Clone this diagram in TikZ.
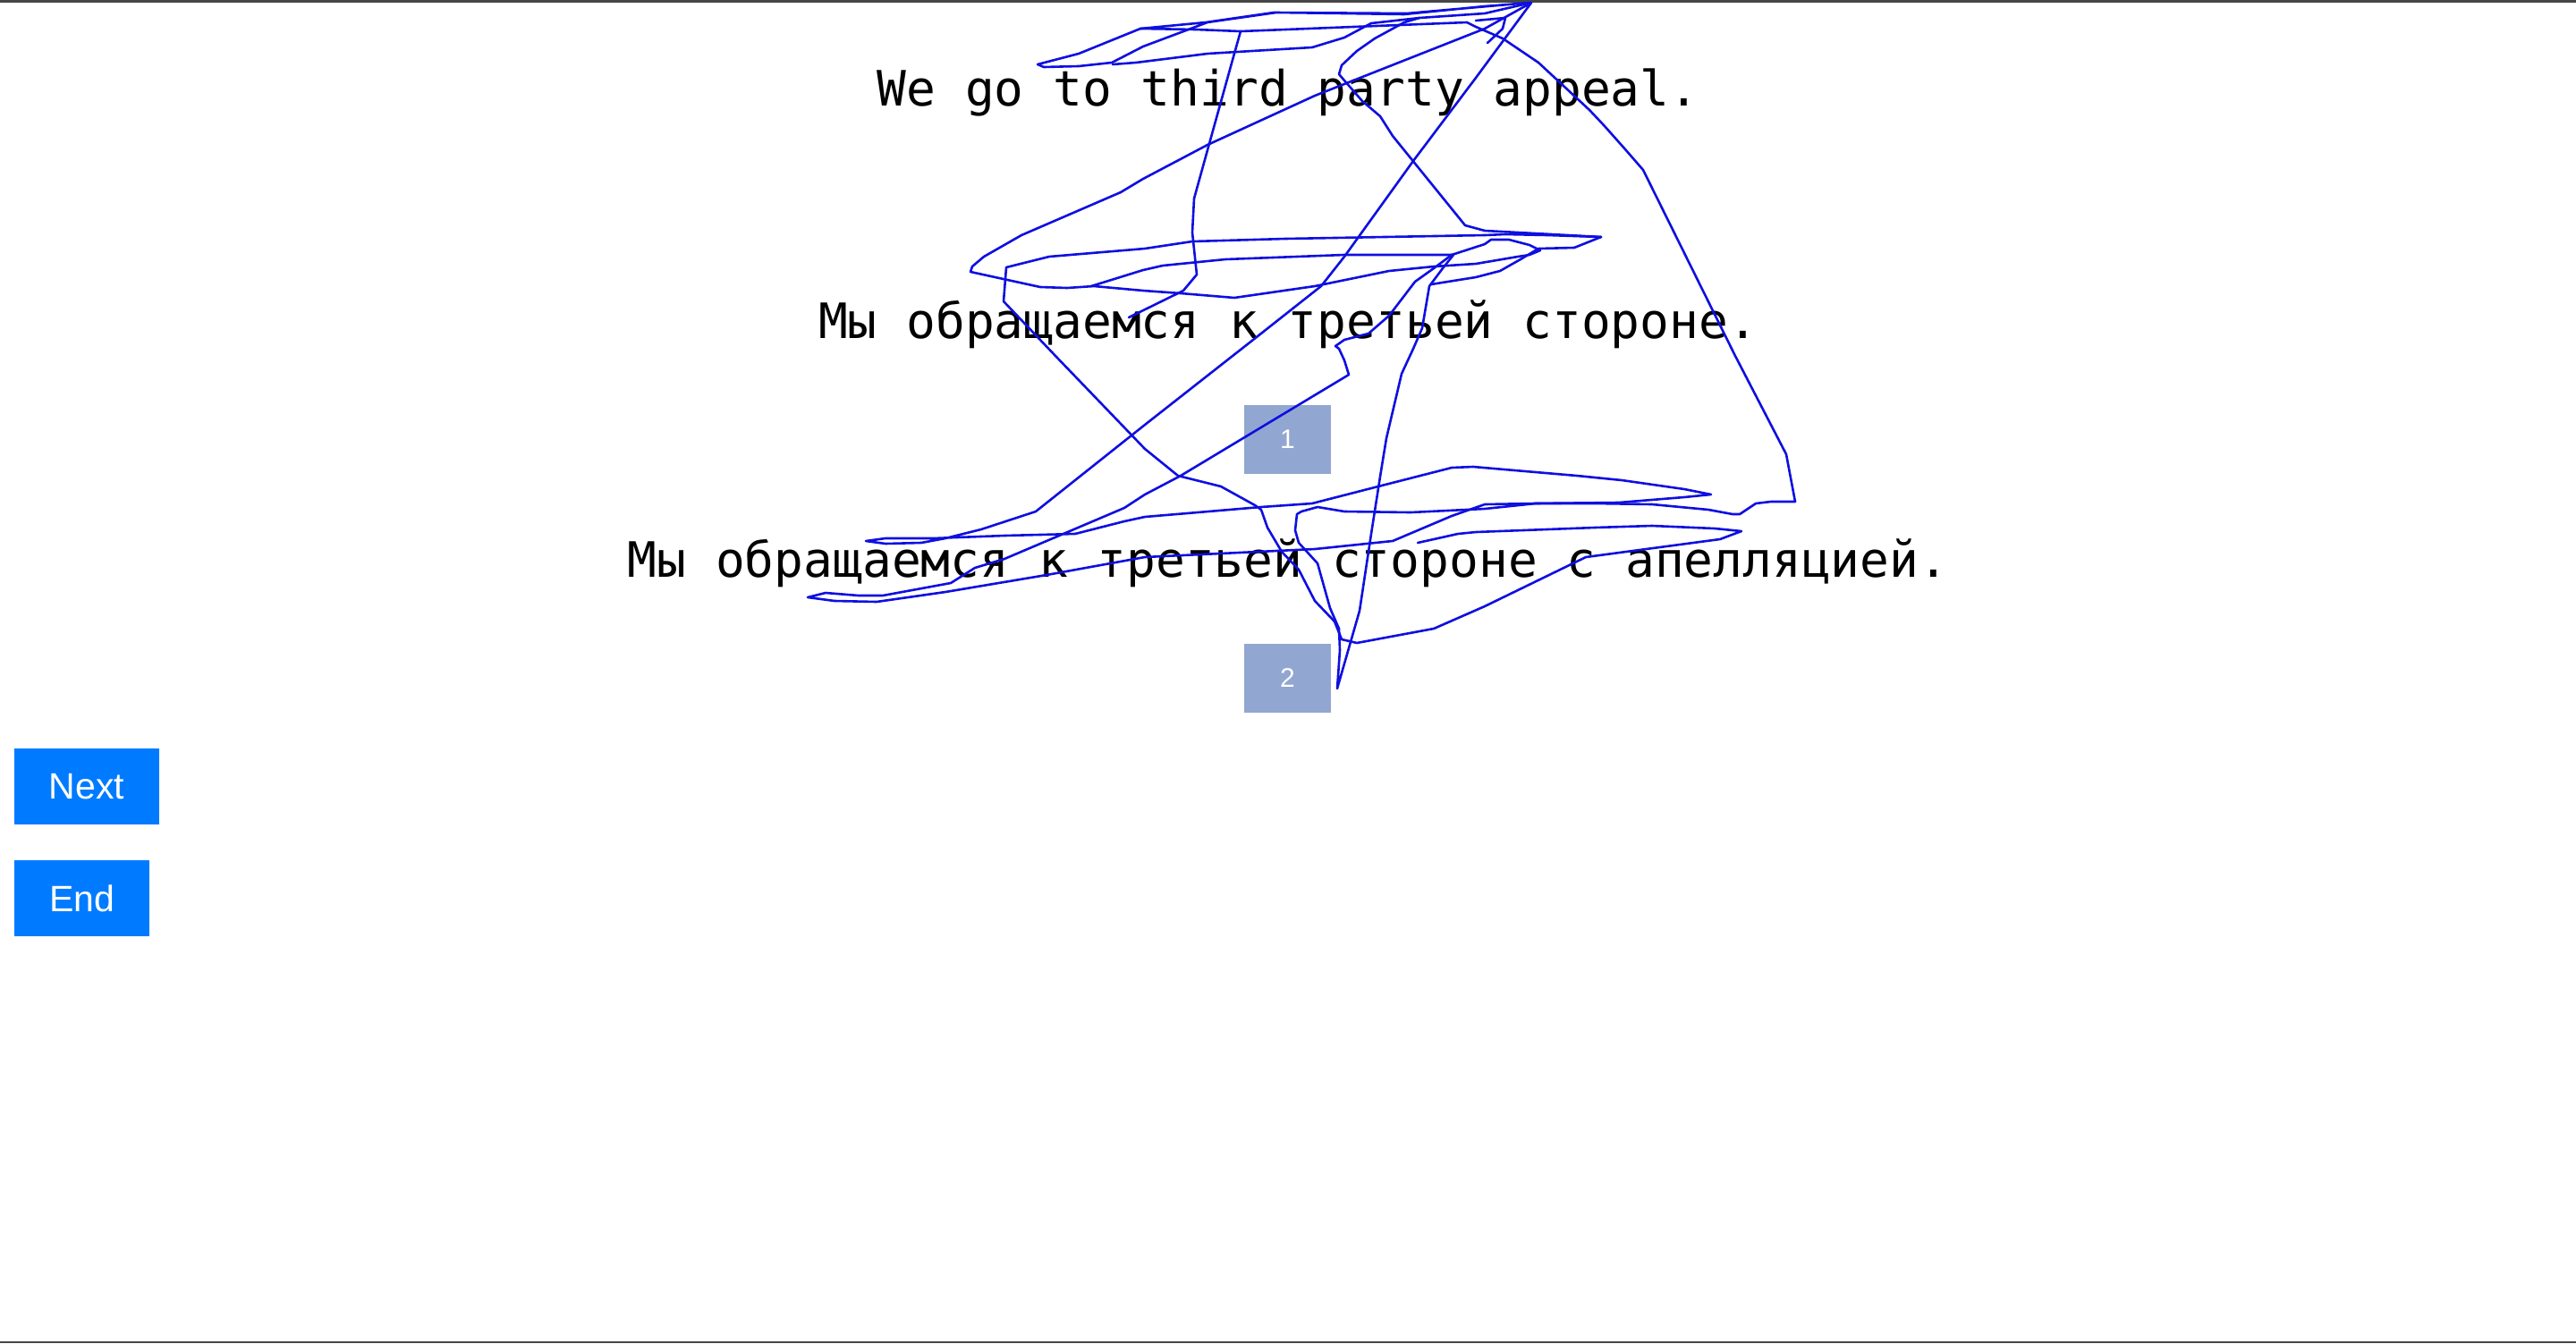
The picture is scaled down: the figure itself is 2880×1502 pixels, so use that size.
\documentclass[tikz,border=0pt]{standalone}
\usepackage{fontspec}
\newfontfamily\monofont{DejaVu Sans Mono}
\newfontfamily\arialfont{Liberation Sans}
\definecolor{btnblue}{RGB}{0,123,255}
\definecolor{numbox}{RGB}{145,167,209}
\definecolor{scrib}{RGB}{15,15,225}
\definecolor{edge}{RGB}{70,70,70}
\tikzset{
  sentence/.style={anchor=base, inner sep=0pt, font=\monofont\fontsize{54.5}{60}\selectfont, text=black},
  numbox/.style={rectangle, fill=numbox, inner sep=0pt, minimum width=97pt, minimum height=77pt, text=white, font=\arialfont\fontsize{30}{34}\selectfont},
  button/.style={rectangle, fill=btnblue, inner sep=0pt, minimum height=85pt, text=white, font=\arialfont\fontsize{41}{46}\selectfont},
  scribble/.style={draw=scrib, line width=2.6pt, line join=round, line cap=round}
}
\begin{document}
\begin{tikzpicture}[x=1pt,y=-1pt]
\useasboundingbox (0,0) rectangle (2880,1502);
\fill[white] (0,0) rectangle (2880,1502);
\fill[edge] (0,0) rectangle (2880,2.5);
\fill[edge] (0,1499.5) rectangle (2880,1502);

\node[sentence] (t1) at (1440,118) {We go to third party appeal.};
\node[sentence] (t2) at (1440,378) {Мы обращаемся к третьей стороне.};
\node[numbox] (b1) at (1439.5,491.5) {1};
\node[sentence] (t3) at (1440,645) {Мы обращаемся к третьей стороне с апелляцией.};
\node[numbox] (b2) at (1439.5,758.5) {2};
\node[button, minimum width=162pt] (next) at (97,879.5) {Next};
\node[button, minimum width=151pt] (end) at (91.5,1004.5) {End};

% freehand scribble
\draw[scribble] (1712,3) -- (1650,87) -- (1580,180) -- (1503,287) -- (1477,320) -- (1401,380) -- (1280,475) -- (1158,572) -- (1097,592) -- (1057,602) -- (1030,607) -- (990,608) -- (968,605) -- (990,602) -- (1043,602) -- (1123,599) -- (1202,597) -- (1257,583) -- (1280,578) -- (1410,567) -- (1467,563) -- (1537,545) -- (1623,523) -- (1647,522) -- (1763,532) -- (1813,537) -- (1883,547) -- (1913,553) -- (1883,556) -- (1810,562) -- (1717,563) -- (1660,564) -- (1623,577) -- (1557,605) -- (1470,614) -- (1280,623) -- (1170,643) -- (1057,662) -- (980,673) -- (933,672) -- (903,668) -- (923,663) -- (960,666) -- (987,666) -- (1063,652) -- (1090,635) -- (1123,625) -- (1257,568) -- (1280,553) -- (1320,532) -- (1508,419) -- (1503,403) -- (1497,390) -- (1493,387) -- (1503,380) -- (1530,373) -- (1553,353) -- (1582,315) -- (1603,300) -- (1623,285) -- (1660,273) -- (1667,268) -- (1687,268) -- (1710,274) -- (1722,280) -- (1710,285) -- (1697,287) -- (1650,295) -- (1603,298) -- (1553,303) -- (1470,320) -- (1380,333) -- (1320,328) -- (1278,325) -- (1223,320) -- (1193,322) -- (1163,321) -- (1085,304) -- (1087,298) -- (1100,287) -- (1142,263) -- (1253,215) -- (1278,200) -- (1350,162) -- (1470,107) -- (1660,32) -- (1712,3);

\draw[scribble] (1790,265) -- (1730,263) -- (1683,262) -- (1660,263) -- (1437,267) -- (1333,270) -- (1280,278) -- (1173,287) -- (1125,299) -- (1122,337) -- (1180,398) -- (1280,502) -- (1317,532) -- (1365,544) -- (1403,565) -- (1410,570) -- (1417,590) -- (1433,617) -- (1452,637) -- (1470,672) -- (1492,695) -- (1500,715) -- (1517,719) -- (1603,703) -- (1660,678) -- (1773,623) -- (1923,603) -- (1947,594) -- (1917,591) -- (1847,588) -- (1783,590) -- (1650,595) -- (1630,597) -- (1585,607);

\draw[scribble] (1220,320) -- (1278,302) -- (1300,297) -- (1370,290) -- (1503,285) -- (1625,285) -- (1613,300) -- (1598,320) -- (1590,367) -- (1580,390) -- (1567,418) -- (1550,490) -- (1543,533) -- (1533,597) -- (1520,683) -- (1495,770) -- (1498,727) -- (1497,703) -- (1487,680) -- (1473,630) -- (1452,607) -- (1448,593) -- (1450,575) -- (1455,572) -- (1473,567) -- (1503,572) -- (1577,573) -- (1660,569) -- (1717,563) -- (1783,563) -- (1847,564) -- (1910,570) -- (1937,575) -- (1945,575) -- (1963,563) -- (1980,561) -- (2007,561) -- (1997,508) -- (1940,398) -- (1837,190) -- (1817,167) -- (1793,140) -- (1777,123) -- (1720,70) -- (1680,43) -- (1650,30) -- (1640,25) -- (1387,35) -- (1378,67) -- (1353,157) -- (1335,222) -- (1333,260) -- (1338,307) -- (1323,325) -- (1262,355);

\draw[scribble] (1790,265) -- (1660,258) -- (1638,252) -- (1557,152) -- (1543,130) -- (1523,113) -- (1503,90) -- (1497,83) -- (1500,73) -- (1517,57) -- (1537,43) -- (1570,25) -- (1587,20) -- (1660,15) -- (1712,3);

\draw[scribble] (1790,265) -- (1760,277) -- (1720,278) -- (1700,290) -- (1677,303) -- (1650,310) -- (1600,318);

\draw[scribble] (1709,3) -- (1573,15) -- (1424,14) -- (1348,25) -- (1275,32) -- (1206,60) -- (1160,72) -- (1167,75) -- (1206,74) -- (1243,70) -- (1278,52) -- (1350,25) -- (1427,14) -- (1503,15) -- (1570,16) -- (1660,7) -- (1712,3);

\draw[scribble] (1275,32) -- (1337,33) -- (1387,35);
\draw[scribble] (1244,72) -- (1270,70) -- (1350,60) -- (1467,53) -- (1503,42) -- (1533,26) -- (1587,20);
\draw[scribble] (1650,23) -- (1683,20) -- (1680,32) -- (1663,48);
\end{tikzpicture}
\end{document}
